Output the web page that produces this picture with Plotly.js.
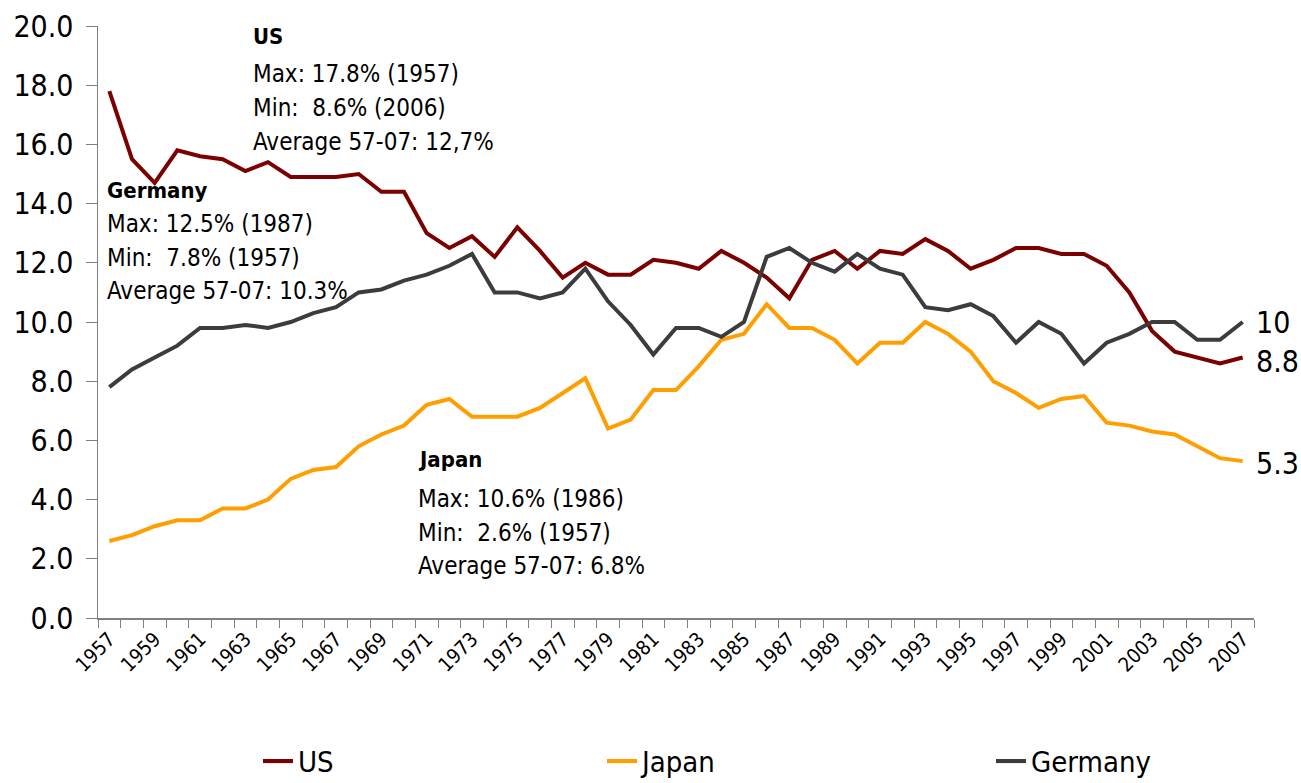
<!DOCTYPE html>
<html>
<head>
<meta charset="utf-8">
<script src="https://cdn.plot.ly/plotly-3.0.1.min.js"></script>
<style>
  html, body { margin: 0; padding: 0; background: #ffffff; }
  #chart { width: 1301px; height: 783px; }
</style>
</head>
<body>
<div id="chart"></div>
<script>
const years = [];
for (let y = 1957; y <= 2007; y++) years.push(String(y));

const usValues = [
  17.8, 15.5, 14.7, 15.8, 15.6, 15.5, 15.1, 15.4, 14.9, 14.9,
  14.9, 15.0, 14.4, 14.4, 13.0, 12.5, 12.9, 12.2, 13.2, 12.4,
  11.5, 12.0, 11.6, 11.6, 12.1, 12.0, 11.8, 12.4, 12.0, 11.5,
  10.8, 12.1, 12.4, 11.8, 12.4, 12.3, 12.8, 12.4, 11.8, 12.1,
  12.5, 12.5, 12.3, 12.3, 11.9, 11.0, 9.7, 9.0, 8.8, 8.6,
  8.8
];
const japanValues = [
  2.6, 2.8, 3.1, 3.3, 3.3, 3.7, 3.7, 4.0, 4.7, 5.0,
  5.1, 5.8, 6.2, 6.5, 7.2, 7.4, 6.8, 6.8, 6.8, 7.1,
  7.6, 8.1, 6.4, 6.7, 7.7, 7.7, 8.5, 9.4, 9.6, 10.6,
  9.8, 9.8, 9.4, 8.6, 9.3, 9.3, 10.0, 9.6, 9.0, 8.0,
  7.6, 7.1, 7.4, 7.5, 6.6, 6.5, 6.3, 6.2, 5.8, 5.4,
  5.3
];
const germanyValues = [
  7.8, 8.4, 8.8, 9.2, 9.8, 9.8, 9.9, 9.8, 10.0, 10.3,
  10.5, 11.0, 11.1, 11.4, 11.6, 11.9, 12.3, 11.0, 11.0, 10.8,
  11.0, 11.8, 10.7, 9.9, 8.9, 9.8, 9.8, 9.5, 10.0, 12.2,
  12.5, 12.0, 11.7, 12.3, 11.8, 11.6, 10.5, 10.4, 10.6, 10.2,
  9.3, 10.0, 9.6, 8.6, 9.3, 9.6, 10.0, 10.0, 9.4, 9.4,
  10.0
];

const seriesNames = ["US", "Japan", "Germany"];
const seriesColors = ["#7b0000", "#ff9e00", "#3c3c3c"];
const endLabels = ["8.8", "5.3", "10"];

const usNote = ["US", "Max: 17.8% (1957)", "Min:\u00a0\u00a08.6% (2006)", "Average 57-07: 12,7%"];
const germanyNote = ["Germany", "Max: 12.5% (1987)", "Min:\u00a0\u00a07.8% (1957)", "Average 57-07: 10.3%"];
const japanNote = ["Japan", "Max: 10.6% (1986)", "Min:\u00a0\u00a02.6% (1957)", "Average 57-07: 6.8%"];

const tickText = years.map((y, i) => (i % 2 === 0 ? y : ""));

const FONT = '"Liberation Sans Narrow", "Arial Narrow", "DejaVu Sans Condensed", sans-serif';

const allValues = [usValues, japanValues, germanyValues];
const legendIds = ["legend", "legend2", "legend3"];
const traces = allValues.map((vals, i) => ({
  type: "scatter",
  mode: "lines",
  name: seriesNames[i],
  legend: legendIds[i],
  x: years,
  y: vals,
  line: { color: seriesColors[i], width: 4 },
  hoverinfo: "x+y+name"
}));

const endShift = [-4, -2, 0];
const annotations = allValues.map((vals, i) => ({
  xref: "x", yref: "y",
  x: vals.length - 1,
  y: vals[vals.length - 1],
  text: endLabels[i],
  showarrow: false,
  xanchor: "left",
  yanchor: "middle",
  xshift: 11,
  yshift: endShift[i],
  font: { family: FONT, size: 30, color: "#000000" }
}));

function addNote(lines, xPx, centersPx) {
  lines.forEach((t, k) => {
    annotations.push({
      xref: "paper", yref: "paper",
      x: (xPx - 98) / 1156,
      y: (618 - centersPx[k]) / 591,
      xanchor: "left", yanchor: "middle", align: "left", showarrow: false,
      text: k === 0 ? "<b>" + t + "</b>" : t,
      font: { family: FONT, size: k === 0 ? 22 : 24, color: "#000000" }
    });
  });
}
addNote(usNote, 251, [37, 75, 109, 143]);
addNote(germanyNote, 105, [191, 225, 259, 292]);
addNote(japanNote, 416, [460, 499, 533, 566]);

const legendFont = { family: FONT, size: 29, color: "#000000" };
const legendX = [258, 602, 991];
const legends = {};
legendIds.forEach((id, i) => {
  legends[id] = {
    orientation: "h",
    x: (legendX[i] - 98) / 1156,
    y: (618 - 761) / 591,
    xanchor: "left", yanchor: "middle",
    font: legendFont,
    bgcolor: "rgba(0,0,0,0)"
  };
});

const layout = Object.assign({
  width: 1301,
  height: 783,
  margin: { l: 98, r: 47, t: 26, b: 165, autoexpand: false },
  paper_bgcolor: "#ffffff",
  plot_bgcolor: "#ffffff",
  font: { family: FONT, color: "#000000" },
  showlegend: true,
  xaxis: {
    type: "category",
    range: [-0.5, years.length - 0.5],
    tickmode: "array",
    tickvals: years,
    ticktext: tickText,
    tickson: "boundaries",
    ticks: "outside",
    ticklen: 8,
    tickcolor: "#808080",
    tickwidth: 1,
    tickangle: -45,
    tickfont: { family: FONT, size: 20, color: "#000000" },
    showline: true,
    linecolor: "#808080",
    linewidth: 1.5,
    showgrid: false,
    zeroline: false,
    fixedrange: true
  },
  yaxis: {
    range: [0, 20],
    dtick: 2,
    tick0: 0,
    tickformat: ".1f",
    ticks: "outside",
    ticklen: 11,
    ticklabelstandoff: 6,
    tickcolor: "#808080",
    tickwidth: 1,
    tickfont: { family: FONT, size: 30, color: "#000000" },
    showline: true,
    linecolor: "#808080",
    linewidth: 1.5,
    showgrid: false,
    zeroline: false,
    fixedrange: true
  },
  annotations: annotations
}, legends);

Plotly.newPlot("chart", traces, layout, { displayModeBar: false, staticPlot: true });
</script>
</body>
</html>
